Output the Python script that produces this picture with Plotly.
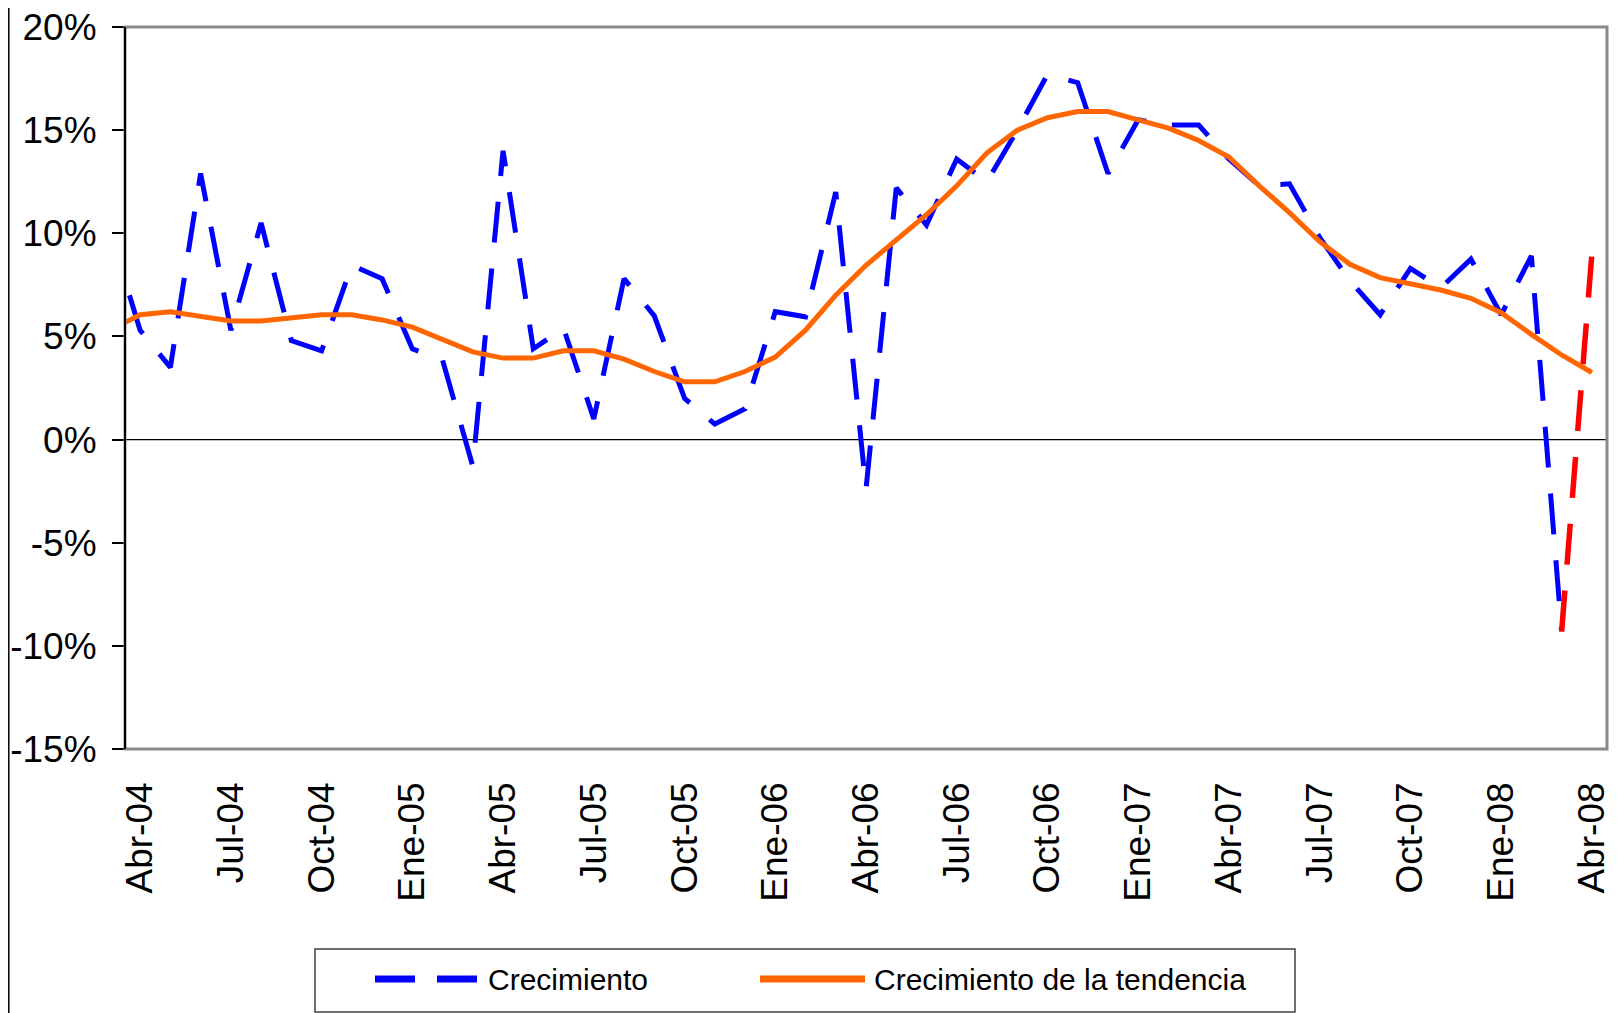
import plotly.graph_objects as go

# ---- data (monthly, Mar-04 .. Abr-08; Mar-04 lies just outside the visible axis) ----
months = ["Mar-04", "Abr-04", "May-04", "Jun-04", "Jul-04", "Ago-04", "Sep-04", "Oct-04", "Nov-04", "Dic-04",
          "Ene-05", "Feb-05", "Mar-05", "Abr-05", "May-05", "Jun-05", "Jul-05", "Ago-05", "Sep-05", "Oct-05",
          "Nov-05", "Dic-05", "Ene-06", "Feb-06", "Mar-06", "Abr-06", "May-06", "Jun-06", "Jul-06", "Ago-06",
          "Sep-06", "Oct-06", "Nov-06", "Dic-06", "Ene-07", "Feb-07", "Mar-07", "Abr-07", "May-07", "Jun-07",
          "Jul-07", "Ago-07", "Sep-07", "Oct-07", "Nov-07", "Dic-07", "Ene-08", "Feb-08", "Mar-08", "Abr-08"]
month_index = list(range(-1, 49))

crecimiento = [10.1, 5.3, 3.5, 12.9, 5.3, 10.5, 4.8, 4.3, 8.45, 7.8,
               4.4, 3.85, -1.3, 14.0, 4.4, 5.4, 1.0, 7.8, 6.0, 2.0,
               0.75, 1.5, 6.2, 5.95, 12.0, -2.4, 12.2, 10.4, 13.6, 12.5,
               15.0, 17.7, 17.3, 12.9, 15.5, 15.25, 15.25, 13.6, 12.3, 12.4,
               9.8, 7.7, 6.05, 8.3, 7.35, 8.75, 6.05, 8.9, -9.3, None]

crecimiento_prelim = [None] * 48 + [-9.3, 9.0]

tendencia = [5.3, 6.05, 6.2, 5.95, 5.75, 5.75, 5.9, 6.05, 6.05, 5.8,
             5.45, 4.85, 4.25, 3.95, 3.95, 4.3, 4.3, 3.9, 3.3, 2.8,
             2.8, 3.3, 4.0, 5.3, 7.0, 8.45, 9.65, 10.9, 12.3, 13.9,
             15.0, 15.6, 15.9, 15.9, 15.5, 15.1, 14.5, 13.7, 12.3, 11.0,
             9.6, 8.5, 7.85, 7.55, 7.25, 6.85, 6.15, 5.1, 4.1, 3.25]

tick_positions = list(range(0, 49, 3))
tick_labels = ["Abr-04", "Jul-04", "Oct-04", "Ene-05", "Abr-05", "Jul-05", "Oct-05", "Ene-06",
               "Abr-06", "Jul-06", "Oct-06", "Ene-07", "Abr-07", "Jul-07", "Oct-07", "Ene-08", "Abr-08"]
y_ticks = [-15, -10, -5, 0, 5, 10, 15, 20]

legend_names = ["Crecimiento", "Crecimiento de la tendencia"]

# ---- layout geometry (page pixels; the page body adds an 8px offset) ----
W, H = 1618, 1013
OFF = 8
L, R, T, B = 125, 1607, 27, 749
PW, PH = R - L, B - T


def px2x(px):
    return (px - L) / PW


def px2y(py):
    return (B - py) / PH


FONT = "Liberation Sans, Arial, sans-serif"
BLUE = "#0000FF"
ORANGE = "#FF6600"
RED = "#FF0000"
DASH = "41px,26px"

fig = go.Figure()
fig.add_trace(go.Scatter(x=month_index, y=crecimiento, mode="lines", name=legend_names[0],
                         line=dict(color=BLUE, width=5, dash=DASH),
                         showlegend=False, connectgaps=False))
fig.add_trace(go.Scatter(x=month_index, y=crecimiento_prelim, mode="lines", name="Preliminar",
                         line=dict(color=RED, width=5.5, dash=DASH),
                         showlegend=False))
fig.add_trace(go.Scatter(x=month_index, y=tendencia, mode="lines", name=legend_names[1],
                         line=dict(color=ORANGE, width=5),
                         showlegend=False))

shapes = [
    # zero line
    dict(type="line", xref="paper", yref="y", x0=0, x1=1, y0=0, y1=0,
         line=dict(color="black", width=1.3), layer="below"),
    # plot area border (grey)
    dict(type="rect", xref="paper", yref="paper", x0=0, x1=1, y0=0, y1=1,
         line=dict(color="#8a8a8a", width=3), layer="above"),
    # value axis line (black)
    dict(type="line", xref="paper", yref="paper", x0=0, x1=0, y0=0, y1=1,
         line=dict(color="black", width=2), layer="above"),
    # chart border on far left
    dict(type="line", xref="paper", yref="paper", x0=px2x(OFF + 0.8), x1=px2x(OFF + 0.8),
         y0=px2y(OFF), y1=px2y(H + OFF),
         line=dict(color="black", width=1.5)),
    # legend box
    dict(type="rect", xref="paper", yref="paper", x0=px2x(315), x1=px2x(1295), y0=px2y(949), y1=px2y(1012),
         line=dict(color="#404040", width=1.5), fillcolor="white"),
    # legend samples
    dict(type="line", xref="paper", yref="paper", x0=px2x(375), x1=px2x(477), y0=px2y(979), y1=px2y(979),
         line=dict(color=BLUE, width=7, dash="40px,22px")),
    dict(type="line", xref="paper", yref="paper", x0=px2x(760), x1=px2x(865), y0=px2y(979), y1=px2y(979),
         line=dict(color=ORANGE, width=7)),
]

annotations = [
    dict(xref="paper", yref="paper", x=px2x(486), y=px2y(979), text=legend_names[0], showarrow=False,
         xanchor="left", yanchor="middle", font=dict(family=FONT, size=30, color="black")),
    dict(xref="paper", yref="paper", x=px2x(872), y=px2y(979), text=legend_names[1], showarrow=False,
         xanchor="left", yanchor="middle", font=dict(family=FONT, size=30, color="black")),
]

fig.update_layout(
    width=W, height=H,
    margin=dict(l=L - OFF, r=W - (R - OFF), t=T - OFF, b=H - (B - OFF), pad=0, autoexpand=False),
    paper_bgcolor="white", plot_bgcolor="white",
    showlegend=False,
    shapes=shapes, annotations=annotations,
    font=dict(family=FONT, color="black"),
    xaxis=dict(range=[-0.5, 48.5], tickmode="array", tickvals=tick_positions, ticktext=tick_labels,
               tickangle=-90, ticks="", showgrid=False, zeroline=False, showline=False,
               automargin=False, ticklabeloverflow="allow",
               tickfont=dict(family=FONT, size=37, color="black"), ticklabelstandoff=25),
    yaxis=dict(range=[-15, 20], tickmode="array", tickvals=y_ticks,
               ticktext=[f"{v}%" for v in y_ticks], ticks="outside", ticklen=12, tickwidth=1.5,
               tickcolor="black", showgrid=False, zeroline=False, showline=False,
               automargin=False, ticklabeloverflow="allow",
               tickfont=dict(family=FONT, size=37, color="black"), ticklabelstandoff=8),
)

fig.write_html("out.html")
